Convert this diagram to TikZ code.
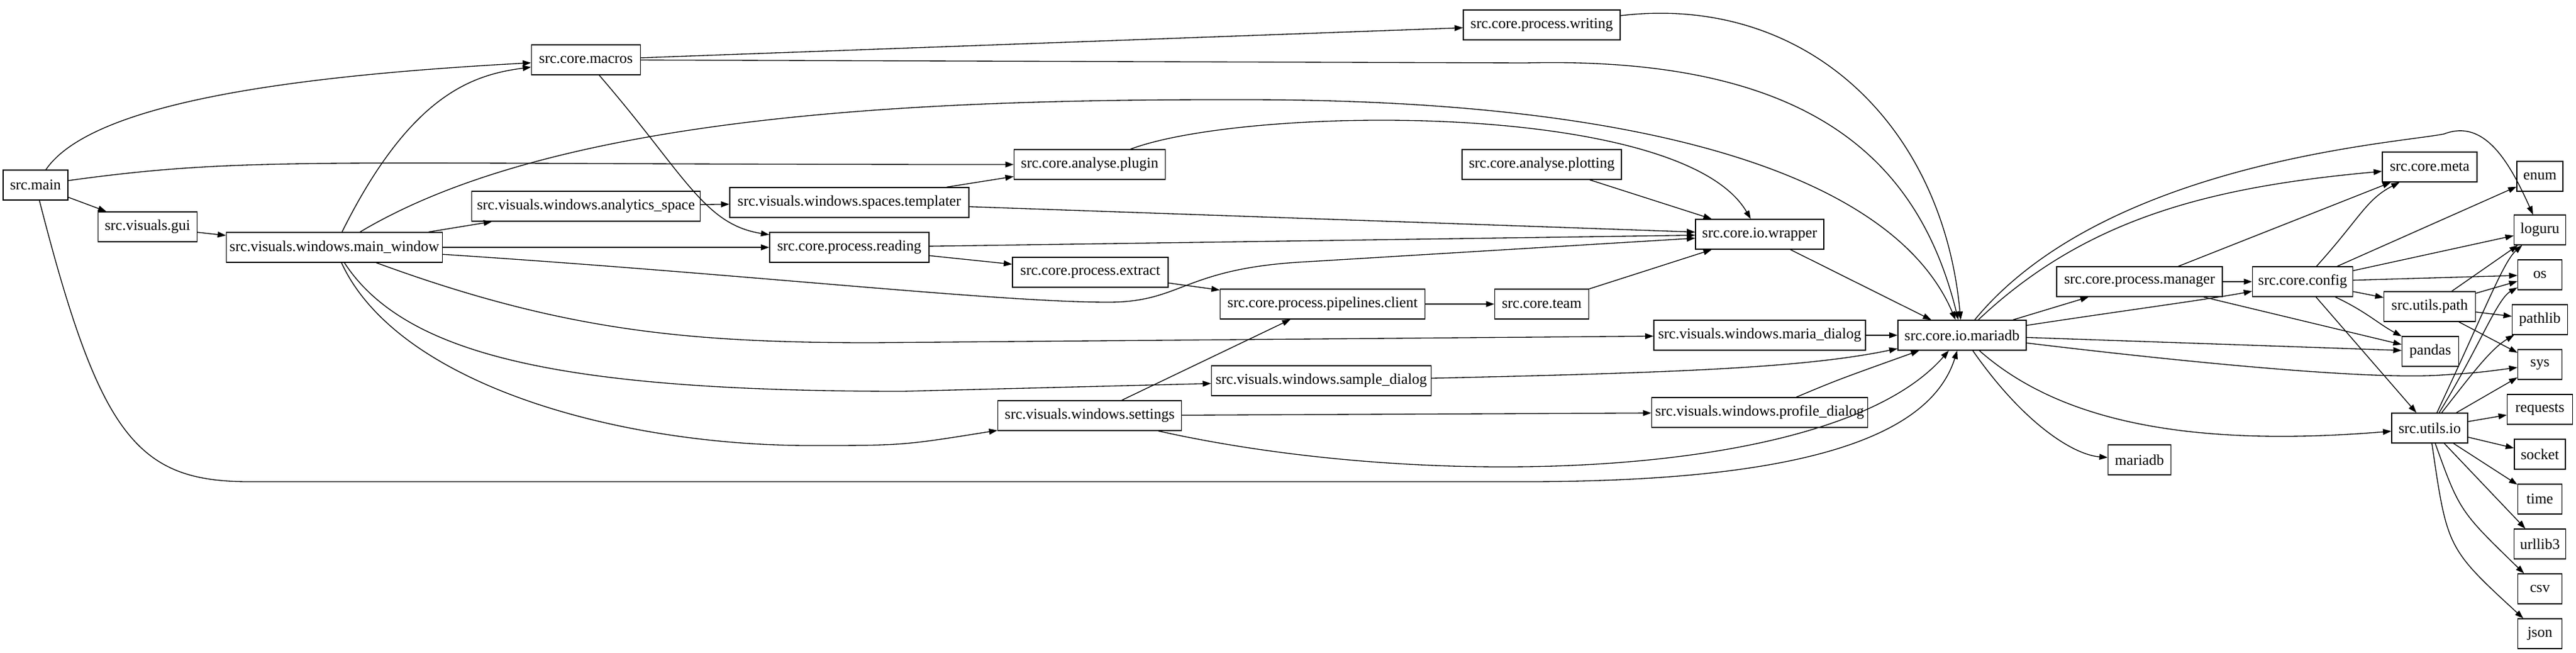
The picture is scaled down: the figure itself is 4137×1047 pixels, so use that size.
\documentclass[tikz,border=0pt]{standalone}
\usepackage{fontspec}
\setmainfont{Liberation Serif}
\usetikzlibrary{arrows.meta,positioning}

\begin{document}
\begin{tikzpicture}[x=0.75pt, y=-0.75pt,
    mod/.style={draw, rectangle, line width=1pt, inner sep=0pt, minimum height=36pt, minimum width=#1*0.75pt, font=\fontsize{18}{20}\selectfont},
    dep/.style={-{Triangle[length=10pt,width=7pt]}, line width=1pt}]
    \useasboundingbox (0,0) rectangle (4137,1047);

    % left part: entry and windows
    \node[mod=104] (main) at (57,297) {src.main};
    \node[mod=159] (gui) at (237,364) {src.visuals.gui};
    \node[mod=347] (mainwin) at (537,397) {src.visuals.windows.main\_window};
    \node[mod=175] (macros) at (941,96) {src.core.macros};
    \node[mod=367] (analytics) at (941,331) {src.visuals.windows.analytics\_space};
    \node[mod=384] (templater) at (1364,325) {src.visuals.windows.spaces.templater};
    \node[mod=256] (reading) at (1364,397) {src.core.process.reading};
    \node[mod=243] (plugin) at (1750,264) {src.core.analyse.plugin};
    \node[mod=250] (extract) at (1751,437) {src.core.process.extract};
    \node[mod=295] (settings) at (1750,667) {src.visuals.windows.settings};
    \node[mod=329] (pipelines) at (2124,488) {src.core.process.pipelines.client};
    \node[mod=353] (sample) at (2122,611) {src.visuals.windows.sample\_dialog};
    \node[mod=252] (writing) at (2476,40) {src.core.process.writing};
    \node[mod=256] (plotting) at (2476,264) {src.core.analyse.plotting};
    \node[mod=151] (team) at (2476,488) {src.core.team};

    % middle part: io
    \node[mod=206] (wrapper) at (2826,376) {src.core.io.wrapper};
    \node[mod=340] (mariadlg) at (2826,538) {src.visuals.windows.maria\_dialog};
    \node[mod=347] (profile) at (2826,662) {src.visuals.windows.profile\_dialog};
    \node[mod=206] (iomaria) at (3151,538) {src.core.io.mariadb};
    \node[mod=266] (manager) at (3436,452) {src.core.process.manager};
    \node[mod=101] (mariadb) at (3436,738) {mariadb};
    \node[mod=161] (config) at (3698,452) {src.core.config};
    \node[mod=152] (meta) at (3902,268) {src.core.meta};
    \node[mod=147] (upath) at (3902,492) {src.utils.path};
    \node[mod=91] (pandas) at (3903,564) {pandas};
    \node[mod=122] (uio) at (3902,687) {src.utils.io};

    % right column: libraries
    \node[mod=74] (enum) at (4079,283) {enum};
    \node[mod=83] (loguru) at (4079,369) {loguru};
    \node[mod=71] (os) at (4079,441) {os};
    \node[mod=89] (pathlib) at (4079,513) {pathlib};
    \node[mod=71] (sys) at (4079,585) {sys};
    \node[mod=105] (requests) at (4079,657) {requests};
    \node[mod=82] (socket) at (4079,729) {socket};
    \node[mod=71] (time) at (4079,801) {time};
    \node[mod=83] (urllib) at (4079,873) {urllib3};
    \node[mod=71] (csv) at (4079,945) {csv};
    \node[mod=71] (json) at (4079,1017) {json};

    % src.main
    \draw[dep] (main) .. controls (150,160) and (500,120) .. (macros);
    \draw[dep] (main) .. controls (400,250) and (500,264) .. (plugin);
    \draw[dep] (main) -- (gui);
    \draw[dep] (main) .. controls (160,700) and (220,773) .. (400,773) -- (2450,773) .. controls (2900,773) and (3100,700) .. (iomaria);
    \draw[dep] (gui) -- (mainwin);

    % main window
    \draw[dep] (mainwin) .. controls (660,150) and (760,120) .. (macros);
    \draw[dep] (mainwin) .. controls (900,180) and (1500,159) .. (2000,160) .. controls (2700,160) and (3050,300) .. (iomaria);
    \draw[dep] (mainwin) -- (analytics);
    \draw[dep] (mainwin) -- (reading);
    \draw[dep] (mainwin) .. controls (1200,440) and (1600,485) .. (1780,485) .. controls (1900,485) and (1900,430) .. (2100,420) -- (wrapper);
    \draw[dep] (mainwin) .. controls (900,530) and (1100,550) .. (1400,550) -- (mariadlg);
    \draw[dep] (mainwin) .. controls (650,570) and (900,628) .. (1450,628) -- (sample);
    \draw[dep] (mainwin) .. controls (640,620) and (1000,715) .. (1300,715) .. controls (1450,715) .. (settings);

    % core
    \draw[dep] (macros) -- (writing);
    \draw[dep] (macros) -- (2450,101) .. controls (2900,90) and (3080,250) .. (iomaria);
    \draw[dep] (macros) .. controls (1100,280) and (1130,360) .. (reading);
    \draw[dep] (analytics) -- (templater);
    \draw[dep] (templater) -- (plugin);
    \draw[dep] (templater) -- (wrapper);
    \draw[dep] (reading) -- (wrapper);
    \draw[dep] (reading) -- (extract);
    \draw[dep] (extract) -- (pipelines);
    \draw[dep] (pipelines) -- (team);
    \draw[dep] (team) -- (wrapper);
    \draw[dep] (plotting) -- (wrapper);
    \draw[dep] (plugin) .. controls (2000,170) and (2700,160) .. (wrapper);
    \draw[dep] (writing) .. controls (2900,-10) and (3120,200) .. (iomaria);
    \draw[dep] (settings) -- (pipelines);
    \draw[dep] (settings) -- (profile);
    \draw[dep] (settings) .. controls (2300,790) and (2950,770) .. (iomaria);

    % io
    \draw[dep] (wrapper) -- (iomaria);
    \draw[dep] (mariadlg) -- (iomaria);
    \draw[dep] (sample) .. controls (2700,598) and (2900,590) .. (iomaria);
    \draw[dep] (profile) .. controls (2950,610) .. (iomaria);
    \draw[dep] (iomaria) .. controls (3380,260) and (3850,230) .. (3925,215) .. controls (3990,190) and (4030,260) .. (loguru);
    \draw[dep] (iomaria) .. controls (3350,350) and (3550,300) .. (meta);
    \draw[dep] (iomaria) -- (manager);
    \draw[dep] (iomaria) .. controls (3400,500) and (3550,480) .. (config);
    \draw[dep] (iomaria) -- (pandas);
    \draw[dep] (iomaria) .. controls (3500,580) and (3800,610) .. (3920,602) .. controls (3980,598) .. (sys);
    \draw[dep] (iomaria) .. controls (3250,680) and (3330,730) .. (mariadb);
    \draw[dep] (iomaria) .. controls (3300,670) and (3500,720) .. (uio);

    % manager and config
    \draw[dep] (manager) -- (meta);
    \draw[dep] (manager) -- (config);
    \draw[dep] (manager) -- (pandas);
    \draw[dep] (config) .. controls (3790,350) and (3800,320) .. (meta);
    \draw[dep] (config) -- (enum);
    \draw[dep] (config) -- (loguru);
    \draw[dep] (config) -- (os);
    \draw[dep] (config) -- (upath);
    \draw[dep] (config) .. controls (3800,500) and (3820,520) .. (pandas);
    \draw[dep] (config) -- (uio);

    % utils
    \draw[dep] (upath) -- (loguru);
    \draw[dep] (upath) -- (os);
    \draw[dep] (upath) -- (pathlib);
    \draw[dep] (upath) -- (sys);
    \draw[dep] (uio) .. controls (3990,500) and (4020,420) .. (loguru);
    \draw[dep] (uio) .. controls (3980,560) and (4010,480) .. (os);
    \draw[dep] (uio) .. controls (3970,600) and (4000,560) .. (pathlib);
    \draw[dep] (uio) -- (sys);
    \draw[dep] (uio) -- (requests);
    \draw[dep] (uio) -- (socket);
    \draw[dep] (uio) -- (time);
    \draw[dep] (uio) -- (urllib);
    \draw[dep] (uio) .. controls (3950,820) .. (csv);
    \draw[dep] (uio) .. controls (3930,880) .. (json);
\end{tikzpicture}
\end{document}
